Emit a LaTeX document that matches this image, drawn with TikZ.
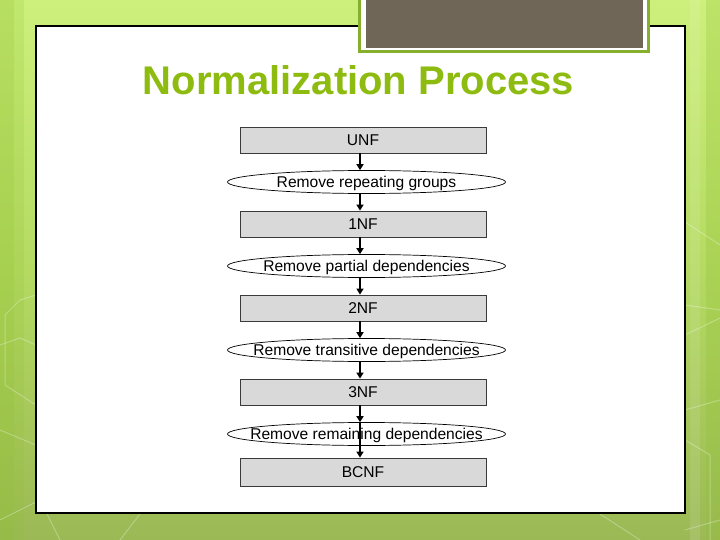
\documentclass[tikz,border=0pt]{standalone}
\usepackage{fontspec}
\setmainfont{Liberation Sans}
\usetikzlibrary{shapes.geometric,arrows.meta}
\definecolor{bgtop}{HTML}{CDF07C}
\definecolor{bgmid}{HTML}{B4DA62}
\definecolor{bgbot}{HTML}{9BB955}
\definecolor{stripe}{HTML}{8FBF30}
\definecolor{titlegreen}{HTML}{8DBB0F}
\definecolor{framegreen}{HTML}{86AF2E}
\definecolor{topbrown}{HTML}{6F6657}
\definecolor{boxgray}{HTML}{D9D9D9}
\definecolor{boxline}{HTML}{3A3A3A}
\tikzset{
  stagebox/.style={rectangle, draw=boxline, line width=0.8pt, fill=boxgray,
    minimum width=246pt, minimum height=26pt, inner sep=0pt,
    font=\fontsize{15.6}{18}\selectfont},
  stepellipse/.style={ellipse, draw=black, line width=0.7pt, fill=white,
    minimum width=278pt, minimum height=23pt, inner sep=0pt,
    label={[font=\fontsize{15.6}{18}\selectfont, inner sep=0pt, yshift=-1pt]center:#1}},
  flow/.style={draw=black, line width=1.6pt, -{Triangle[length=6pt,width=7pt]}},
  hexline/.style={draw=white, opacity=0.28, line width=1pt}
}
\begin{document}
\begin{tikzpicture}[x=1pt,y=-1pt]
\useasboundingbox (0,0) rectangle (720,540);
% background
\shade[top color=bgtop, bottom color=bgbot, middle color=bgmid] (0,0) rectangle (720,540);
\fill[stripe, opacity=0.35] (0,0) rectangle (14,540);
\fill[stripe, opacity=0.18] (14,0) rectangle (24,540);
\fill[stripe, opacity=0.25] (706,0) rectangle (720,540);
\fill[white, opacity=0.10] (690,0) rectangle (700,540);
% faint hexagon lines
\draw[hexline] (0,345) -- (20,338) -- (36,345);
\draw[hexline] (5,315) -- (20,300) -- (36,295);
\draw[hexline] (5,315) -- (5,385) -- (36,405);
\draw[hexline] (0,430) -- (36,445);
\draw[hexline] (0,520) -- (40,500) -- (60,540);
\draw[hexline] (120,540) -- (140,514);
\draw[hexline] (600,514) -- (640,540);
\draw[hexline] (685,222) -- (720,245);
\draw[hexline] (685,305) -- (720,310);
\draw[hexline] (685,335) -- (720,318);
\draw[hexline] (685,410) -- (720,400);
\draw[hexline] (685,530) -- (720,520);
\draw[hexline] (685,440) -- (710,455) -- (710,540);
% white panel
\draw[fill=white, line width=1.1pt, draw=black] (36,26) rectangle (685,513);
% top brown block
\fill[framegreen] (358,-2) rectangle (650,53);
\fill[white] (361,-2) rectangle (647,50.5);
\fill[topbrown] (366,-2) rectangle (643,48);
% title
\node[anchor=base, font=\bfseries\fontsize{40}{44}\selectfont, text=titlegreen, inner sep=0pt]
  (title) at (358.5,95) {Normalization Process};
% axis for arrows
\coordinate (ax) at (360,0);
% stages
\node[stagebox] (unf)  at (363,140) {UNF};
\node[stepellipse={Remove repeating groups}] (r1) at (366.5,182) {};
\node[stagebox] (nf1)  at (363,224) {1NF};
\node[stepellipse={Remove partial dependencies}] (r2) at (366.5,266) {};
\node[stagebox] (nf2)  at (363,308) {2NF};
\node[stepellipse={Remove transitive dependencies}] (r3) at (366.5,350) {};
\node[stagebox] (nf3)  at (363,392) {3NF};
\node[stepellipse={Remove remaining dependencies}] (r4) at (366.5,434) {};
\node[stagebox, minimum height=28pt] (bcnf) at (363,472) {BCNF};
% arrows
\draw[flow] (unf.south -| ax) -- (r1.north -| ax);
\draw[flow] (r1.south -| ax) -- (nf1.north -| ax);
\draw[flow] (nf1.south -| ax) -- (r2.north -| ax);
\draw[flow] (r2.south -| ax) -- (nf2.north -| ax);
\draw[flow] (nf2.south -| ax) -- (r3.north -| ax);
\draw[flow] (r3.south -| ax) -- (nf3.north -| ax);
\draw[flow] (nf3.south -| ax) -- (r4.north -| ax);
\draw[flow] (r4.north -| ax) -- (bcnf.north -| ax);
\end{tikzpicture}
\end{document}
